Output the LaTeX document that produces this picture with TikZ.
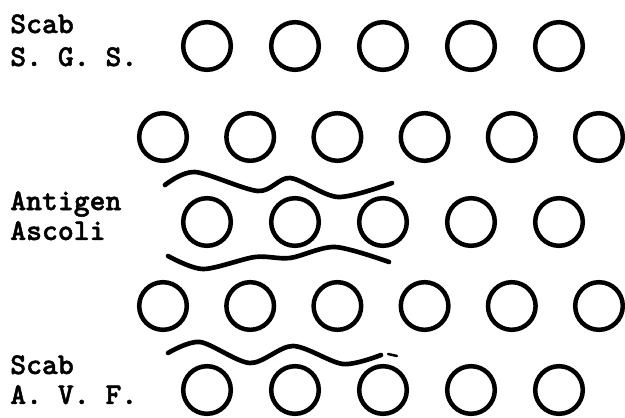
\documentclass[tikz,border=0pt]{standalone}
\usepackage{fontspec}
\setmonofont{lmmonolt10-regular.otf}[BoldFont=lmmonolt10-bold.otf,BoldFeatures={FakeBold=1.5}]

\begin{document}
\begin{tikzpicture}[x=0.025cm,y=-0.025cm,font=\fontsize{21.5}{24}\selectfont\ttfamily\bfseries,
  well/.style={draw,circle,line width=3.2pt,minimum size=1.19cm,inner sep=0pt},
  band/.style={line width=3.3pt,line cap=round},
  lbl/.style={anchor=base west,inner sep=0pt,align=left}]
\useasboundingbox (0,0) rectangle (625,418);
% labels
\node[lbl] (sgs) at (10,66){Scab\\[-0.6pt]S. G. S.};
\node[lbl] (ascoli) at (10,240){Antigen\\[-2.7pt]Ascoli};
\node[lbl] (avf) at (10,404){Scab\\[-2.7pt]A. V. F.};
% wells
\foreach \i in {0,...,4}{
  \node[well] (r1-\i) at (207+88*\i,46){};
  \node[well] (r3-\i) at (207+88*\i,222){};
  \node[well] (r5-\i) at (207+88*\i,390){};}
\foreach \i in {0,...,5}{
  \node[well] (r2-\i) at (163+87.2*\i,137){};
  \node[well] (r4-\i) at (163+87.2*\i,306){};}
% precipitin lines
\draw[band] plot[smooth] coordinates {(165,185) (195,172) (258,191) (290,178) (338,197) (392,183)};
\draw[band] plot[smooth] coordinates {(168,256) (203,269) (255,257) (290,258) (335,247) (389,262)};
\draw[band] plot[smooth] coordinates {(168,353) (200,342) (250,363) (293,346) (343,364) (381,355)};
\draw[line width=1.8pt,line cap=round] (388,354)--(397,356);
\end{tikzpicture}
\end{document}
